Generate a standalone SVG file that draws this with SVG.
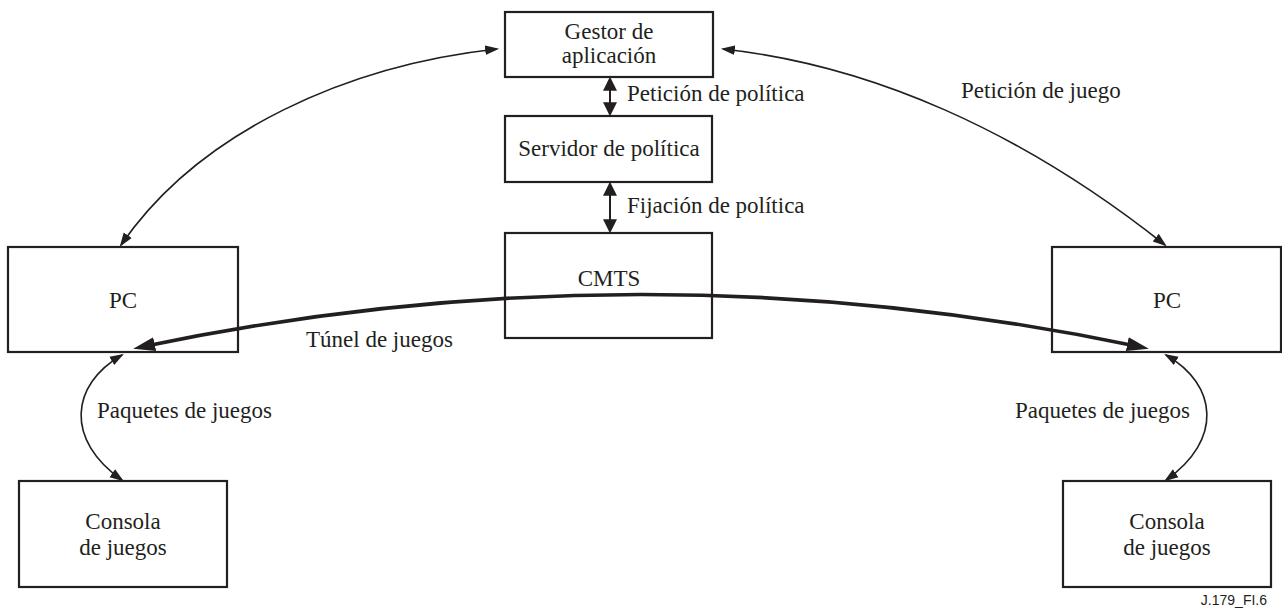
<svg xmlns="http://www.w3.org/2000/svg" width="1282" height="610" viewBox="0 0 1282 610">
<style>
.box{fill:#fff;stroke:#231f20;stroke-width:2.2}
.t{font-family:'Liberation Serif','DejaVu Serif',serif;font-size:23px;fill:#231f20}
.c{text-anchor:middle}
.thin{fill:none;stroke:#231f20;stroke-width:1.6}
.thick{fill:none;stroke:#231f20;stroke-width:3.6}
.v{fill:none;stroke:#231f20;stroke-width:2}
</style>
<defs>
<marker id="ah" markerUnits="userSpaceOnUse" markerWidth="14" markerHeight="12" refX="11" refY="4.5" orient="auto-start-reverse" viewBox="0 0 13 9">
<path d="M0,0 L13,4.5 L0,9 z" fill="#231f20"/>
</marker>
<marker id="av" markerUnits="userSpaceOnUse" markerWidth="14" markerHeight="14" refX="10" refY="6" orient="auto-start-reverse" viewBox="0 0 12 12">
<path d="M0,0 L12,6 L0,12 z" fill="#231f20"/>
</marker>
<marker id="ab" markerUnits="userSpaceOnUse" markerWidth="22" markerHeight="16" refX="14" refY="7" orient="auto-start-reverse" viewBox="0 0 22 14">
<path d="M0,0 L22,7 L0,14 z" fill="#231f20"/>
</marker>
</defs>
<g id="connectors">
<path class="thin" d="M 497,49 C 350,65 200,130 121,245" marker-start="url(#ah)" marker-end="url(#ah)"/>
<path class="thin" d="M 723,49 C 870,65 1020,130 1165,245" marker-start="url(#ah)" marker-end="url(#ah)"/>
<line class="v" x1="610" y1="79" x2="610" y2="114" marker-start="url(#av)" marker-end="url(#av)"/>
<line class="v" x1="610" y1="184" x2="610" y2="231" marker-start="url(#av)" marker-end="url(#av)"/>
<path class="thin" d="M 122,355 C 70,385 65,440 122,480" marker-start="url(#ah)" marker-end="url(#ah)"/>
<path class="thin" d="M 1166,355 C 1218,385 1223,440 1166,480" marker-start="url(#ah)" marker-end="url(#ah)"/>
</g>
<g id="gestor">
<rect class="box" x="505" y="12" width="208" height="65"/>
<text class="t c" x="609" y="39" font-family="Liberation Serif, serif">Gestor de</text>
<text class="t c" x="609" y="63" font-family="Liberation Serif, serif">aplicación</text>
</g>
<g id="servidor">
<rect class="box" x="505" y="116" width="207" height="66"/>
<text class="t c" x="609" y="156" font-family="Liberation Serif, serif">Servidor de política</text>
</g>
<g id="cmts">
<rect class="box" x="505" y="233" width="207" height="105"/>
<text class="t c" x="609" y="286" font-family="Liberation Serif, serif">CMTS</text>
</g>
<g id="pc-left">
<rect class="box" x="8" y="247" width="230" height="105"/>
<text class="t c" x="123" y="308" font-family="Liberation Serif, serif">PC</text>
</g>
<g id="pc-right">
<rect class="box" x="1052" y="247" width="229" height="105"/>
<text class="t c" x="1167" y="308" font-family="Liberation Serif, serif">PC</text>
</g>
<g id="consola-left">
<rect class="box" x="19" y="481" width="208" height="106"/>
<text class="t c" x="123" y="529" font-family="Liberation Serif, serif">Consola</text>
<text class="t c" x="123" y="555" font-family="Liberation Serif, serif">de juegos</text>
</g>
<g id="consola-right">
<rect class="box" x="1063" y="481" width="208" height="106"/>
<text class="t c" x="1167" y="529" font-family="Liberation Serif, serif">Consola</text>
<text class="t c" x="1167" y="555" font-family="Liberation Serif, serif">de juegos</text>
</g>
<g id="tunnel">
<path class="thick" d="M 141,347 Q 641,242 1141,347" marker-start="url(#ab)" marker-end="url(#ab)"/>
</g>
<g id="labels" font-family="Liberation Serif, serif">
<text class="t" x="627" y="101">Petición de política</text>
<text class="t" x="627" y="213">Fijación de política</text>
<text class="t" x="961" y="98">Petición de juego</text>
<text class="t" x="306" y="347">Túnel de juegos</text>
<text class="t" x="97" y="418">Paquetes de juegos</text>
<text class="t" x="1015" y="418">Paquetes de juegos</text>
<text x="1267" y="605" text-anchor="end" font-family="Liberation Sans, Arial, sans-serif" font-size="14" fill="#231f20">J.179_FI.6</text>
</g>
</svg>
